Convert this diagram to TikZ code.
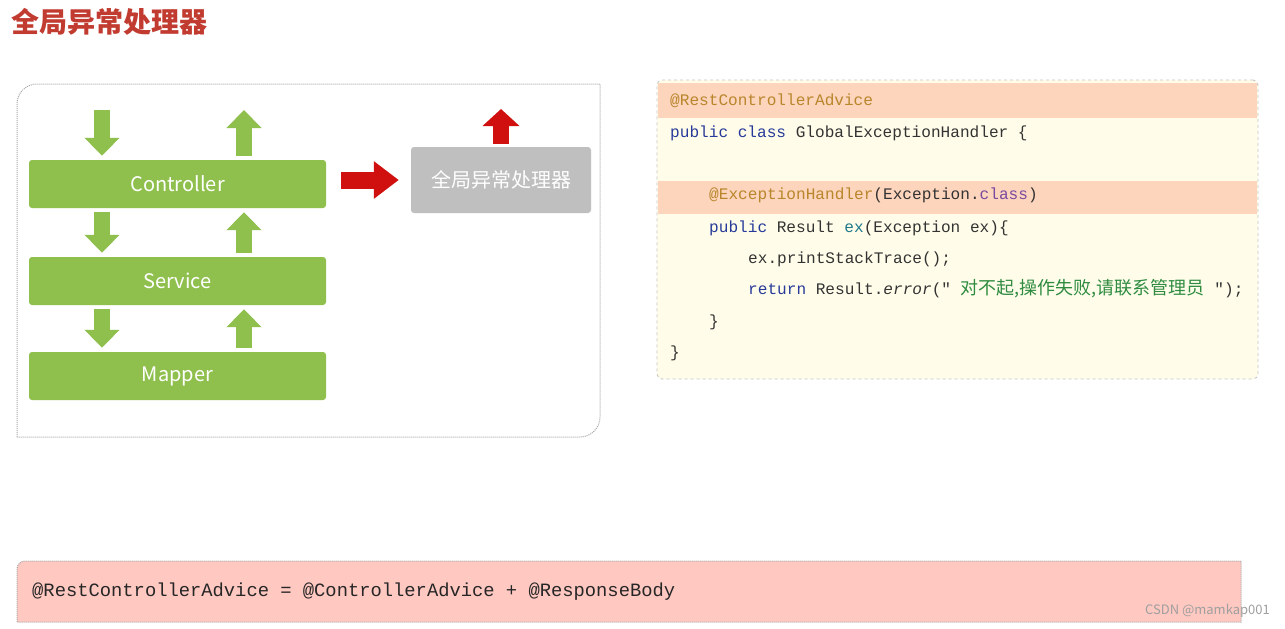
\documentclass[tikz,border=0pt]{standalone}
\usepackage{fontspec}
\usepackage{tikz}
\usetikzlibrary{arrows.meta, positioning, calc}
\newfontfamily\cjk{Noto Sans CJK SC}
\newfontfamily\codefont{Liberation Mono}
\definecolor{layerGreen}{HTML}{8FC04E}
\definecolor{alertRed}{HTML}{D0100F}
\definecolor{titleRed}{HTML}{C23B30}
\definecolor{handlerGray}{HTML}{BFBFBF}
\definecolor{codeBg}{HTML}{FFFDE9}
\definecolor{codeHl}{HTML}{FDD4BC}
\definecolor{annoBrown}{HTML}{B8862B}
\definecolor{kwBlue}{HTML}{273A9A}
\definecolor{kwPurple}{HTML}{7A4A9E}
\definecolor{fnTeal}{HTML}{1F7A8C}
\definecolor{strGreen}{HTML}{2E8B40}
\definecolor{codeText}{HTML}{333333}
\definecolor{sumPink}{HTML}{FFC8C1}

\begin{document}
\begin{tikzpicture}[x=1pt, y=-1pt,
    layer/.style={fill=layerGreen, rounded corners=3pt, minimum width=297pt, minimum height=48pt, inner sep=0pt, text=white, font=\cjk\fontsize{20}{24}\selectfont},
    handlerbox/.style={fill=handlerGray, rounded corners=3pt, minimum width=180pt, minimum height=66pt, inner sep=0pt, text=white, font=\cjk\fontsize{20}{24}\selectfont},
    panel/.style={draw=gray!70, densely dotted, line width=1pt},
    codebox/.style={draw=gray!45, dashed, line width=0.9pt, fill=codeBg, rounded corners=5pt, minimum width=601pt, minimum height=299pt, inner sep=0pt},
    codeline/.style={anchor=mid west, inner sep=0pt, text=codeText, font=\codefont\fontsize{16.1}{19}\selectfont},
    sumbox/.style={draw=gray!70, densely dotted, line width=1pt, fill=sumPink},
    greenarrow/.style={draw=layerGreen, line width=16pt, -{Triangle[length=18pt, width=34pt]}, shorten <=4pt, shorten >=4pt},
    redarrow/.style={draw=alertRed, line width=17pt, -{Triangle[length=25pt, width=36pt]}}]

  \useasboundingbox[fill=white] (0,0) rectangle (1285,629);

  \node[anchor=west, inner sep=0pt, text=titleRed, font=\cjk\bfseries\fontsize{28}{32}\selectfont] (title) at (11,22) {全局异常处理器};

  \draw[panel] (17,437) -- (17,104) arc[start angle=180, end angle=90, radius=20pt] -- (600,84)
    -- (600,417) arc[start angle=0, end angle=-90, radius=20pt] -- cycle;

  \node[layer] (ctrl)   at (177.5,184) {Controller};
  \node[layer] (svc)    at (177.5,281) {Service};
  \node[layer] (mapper) at (177.5,376) {Mapper};
  \node[handlerbox] (handler) at (501,180) {全局异常处理器};

  \coordinate (inC)   at (102,106);
  \coordinate (outC)  at (244,106);
  \coordinate (raise) at (501,109);

  \draw[greenarrow] (inC) -- (inC |- ctrl.north);
  \draw[greenarrow] (ctrl.north -| outC) -- (outC);
  \foreach \a/\b in {ctrl/svc, svc/mapper} {
    \draw[greenarrow] (\a.south -| inC) -- (\b.north -| inC);
    \draw[greenarrow] (\b.north -| outC) -- (\a.south -| outC);
  }

  \draw[redarrow, shorten <=15pt, shorten >=12pt] (ctrl.east |- handler.west) -- (handler.west);
  \draw[redarrow, line width=16pt, -{Triangle[length=17pt, width=36pt]}, shorten <=3pt] (handler.north) -- (raise);

  \node[codebox] (code) at (957.5,229.5) {};
  \fill[codeHl] (658,83) rectangle (1257,118);
  \fill[codeHl] (658,181) rectangle (1257,214);

  \node[codeline] (l1) at (670,103) {\textcolor{annoBrown}{@RestControllerAdvice}};
  \node[codeline] (l2) at (670,135) {\textcolor{kwBlue}{public class} GlobalExceptionHandler \{};
  \node[codeline] (l3) at (709,197) {\textcolor{annoBrown}{@ExceptionHandler}(Exception.\textcolor{kwPurple}{class})};
  \node[codeline] (l4) at (709,230) {\textcolor{kwBlue}{public} Result \textcolor{fnTeal}{ex}(Exception ex)\{};
  \node[codeline] (l5) at (748,261) {ex.printStackTrace();};
  \node[codeline] (l6) at (748,292) {\textcolor{kwBlue}{return} Result.\textit{error}("\ \textcolor{strGreen}{\cjk\fontsize{18}{20}\selectfont 对不起,操作失败,请联系管理员}\ ");};
  \node[codeline] (l7) at (709,324) {\}};
  \node[codeline] (l8) at (670,355) {\}};

  \draw[sumbox] (17,622) -- (17,569) arc[start angle=180, end angle=90, radius=8pt] -- (1241,561) -- (1241,622) -- cycle;
  \node[codeline, text=black!85, font=\codefont\fontsize{18.8}{22}\selectfont] (sum) at (32,594) {@RestControllerAdvice = @ControllerAdvice + @ResponseBody};

  \node[anchor=east, inner sep=0pt, text=gray!75, font=\cjk\fontsize{13}{15}\selectfont] (mark) at (1270,611) {CSDN @mamkap001};
\end{tikzpicture}
\end{document}
